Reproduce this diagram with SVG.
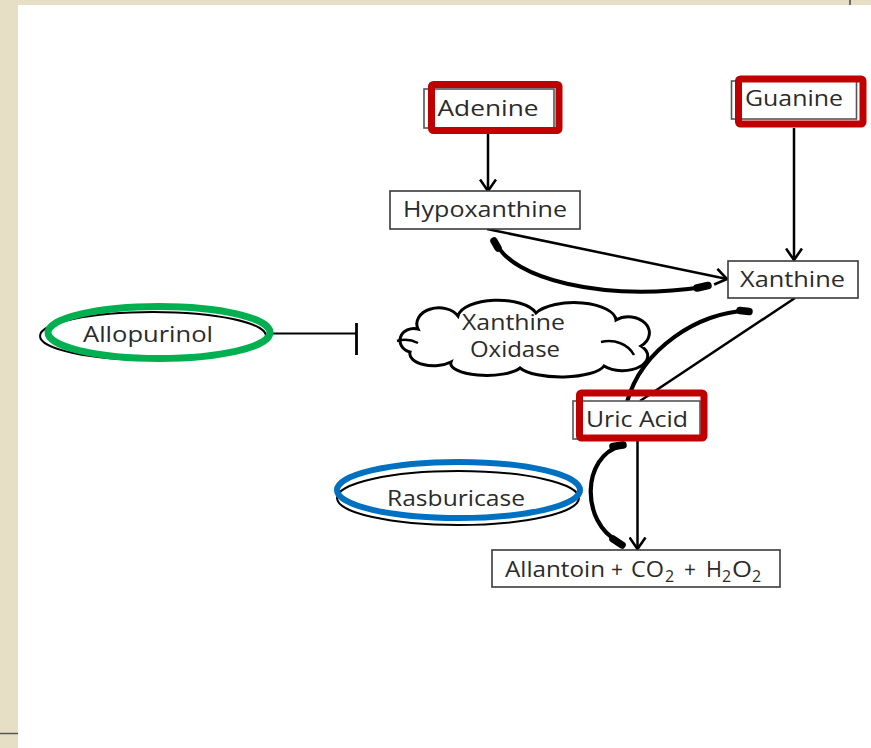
<svg xmlns="http://www.w3.org/2000/svg" width="871" height="748" viewBox="0 0 871 748">
  <style>
    .lbl { font-family: "Open Sans", "DejaVu Sans", sans-serif; font-size: 21px; fill: #2b2b2b; }
    .sub { font-family: "Open Sans", "DejaVu Sans", sans-serif; font-size: 16px; fill: #2b2b2b; }
    .box { fill: #ffffff; stroke: #3a3a3a; stroke-width: 1.6; }
    .under { fill: #ffffff; stroke: #555555; stroke-width: 1.6; }
    .hl { fill: none; stroke: #c00000; stroke-width: 7; }
    .thin { fill: none; stroke: #000000; stroke-width: 2.5; }
    .thick { fill: none; stroke: #000000; stroke-width: 4.2; stroke-linecap: round; }
    .tip { fill: none; stroke: #000000; stroke-width: 7.5; stroke-linecap: round; }
  </style>
  <defs>
    <marker id="vhead" viewBox="0 0 14 18" refX="12.5" refY="9" markerWidth="14" markerHeight="18" markerUnits="userSpaceOnUse" orient="auto">
      <path d="M1,1 L12.5,9 L1,17" fill="none" stroke="#000" stroke-width="2.6"/>
    </marker>
  </defs>

  <!-- page frame -->
  <rect x="0" y="0" width="871" height="748" fill="#ffffff"/>
  <rect x="0" y="0" width="871" height="5" fill="#e6dfc6"/>
  <rect x="0" y="0" width="18" height="748" fill="#e6dfc6"/>
  <line x1="850" y1="0" x2="850" y2="5" stroke="#444" stroke-width="1.5"/>
  <line x1="0" y1="733.5" x2="18" y2="733.5" stroke="#555" stroke-width="1.5"/>

  <!-- connectors -->
  <g id="connectors">
    <line class="thin" x1="488" y1="134" x2="488" y2="191" stroke-width="3" marker-end="url(#vhead)"/>
    <line class="thin" x1="794" y1="128" x2="794" y2="260" stroke-width="3" marker-end="url(#vhead)"/>
    <line class="thin" x1="487" y1="229" x2="727" y2="279" marker-end="url(#vhead)"/>
    <line class="thin" x1="795" y1="298" x2="640" y2="401" stroke-width="2.2"/>
    <line class="thin" x1="637.5" y1="441" x2="637.5" y2="549" stroke-width="2.2" marker-end="url(#vhead)"/>
    <!-- curved reaction arrows -->
    <path class="thick" d="M496,243 C512,278 600,302 704,287"/>
    <path class="tip" d="M494,241 L498,248"/>
    <path class="tip" d="M697,288 L708,285.5"/>
    <path class="thick" d="M746,311 C700,312 642,348 627,402"/>
    <path class="tip" d="M740,310.5 L749,311.5"/>
    <path class="thick" d="M621,446 C582,456 580,522 619,542"/>
    <path class="tip" d="M613,446.5 L623,445"/>
    <path class="tip" d="M613,539 L622,545"/>
    <!-- inhibition -->
    <line x1="272" y1="333.5" x2="356" y2="333.5" stroke="#000" stroke-width="2"/>
    <line x1="356.5" y1="323" x2="356.5" y2="355" stroke="#000" stroke-width="2.8"/>
  </g>

  <g id="adenine">
    <rect class="under" x="424" y="89" width="130" height="39"/>
    <text class="lbl" x="437.5" y="116" textLength="101" lengthAdjust="spacingAndGlyphs">Adenine</text>
    <rect class="hl" x="431.5" y="84.5" width="127.5" height="46" rx="2"/>
  </g>

  <g id="guanine">
    <rect class="under" x="731.5" y="81" width="125" height="38"/>
    <text class="lbl" x="745" y="106" textLength="98" lengthAdjust="spacingAndGlyphs">Guanine</text>
    <rect class="hl" x="738.5" y="79" width="124.5" height="45" rx="2"/>
  </g>

  <g id="hypoxanthine">
    <rect class="box" x="390" y="191" width="190" height="38"/>
    <text class="lbl" x="403" y="217" textLength="164" lengthAdjust="spacingAndGlyphs">Hypoxanthine</text>
  </g>

  <g id="xanthine">
    <rect class="box" x="728" y="261" width="130" height="37"/>
    <text class="lbl" x="740" y="287" textLength="105" lengthAdjust="spacingAndGlyphs">Xanthine</text>
  </g>

  <g id="xanthine-oxidase">
    <path d="M418,329 A22,16 0 0 1 458,316 A40,18 0 0 1 536,313 A42,18 0 0 1 616,320 A18,14 0 0 1 641,346 A24,14 0 0 1 604,366 A44,14 0 0 1 520,368 A36,12 0 0 1 451,362 A24,12 0 0 1 410,352 A14,12 0 0 1 418,329 Z" fill="#ffffff" stroke="#000" stroke-width="3"/>
    <path d="M397,341 C404,339 412,340 418,343" fill="none" stroke="#000" stroke-width="2.5"/>
    <path d="M601,342 C615,339 628,344 634,355" fill="none" stroke="#000" stroke-width="2.5"/>
    <text class="lbl" x="462" y="330" textLength="103" lengthAdjust="spacingAndGlyphs">Xanthine</text>
    <text class="lbl" x="470" y="357" textLength="90" lengthAdjust="spacingAndGlyphs">Oxidase</text>
  </g>

  <g id="uric-acid">
    <rect class="under" x="573" y="401" width="127" height="38"/>
    <text class="lbl" x="586" y="427" textLength="102" lengthAdjust="spacingAndGlyphs">Uric Acid</text>
    <rect class="hl" x="579.5" y="393" width="124.5" height="45" rx="2"/>
  </g>

  <g id="allantoin">
    <rect class="box" x="492" y="550" width="288" height="37"/>
    <text class="lbl" x="505" y="577" textLength="100" lengthAdjust="spacingAndGlyphs">Allantoin</text>
    <text class="lbl" x="611" y="577">+</text>
    <text class="lbl" x="631" y="577" textLength="33" lengthAdjust="spacingAndGlyphs">CO</text>
    <text class="sub" x="665" y="582">2</text>
    <text class="lbl" x="684" y="577">+</text>
    <text class="lbl" x="706" y="577" textLength="16" lengthAdjust="spacingAndGlyphs">H</text>
    <text class="sub" x="722" y="582">2</text>
    <text class="lbl" x="732" y="577" textLength="20" lengthAdjust="spacingAndGlyphs">O</text>
    <text class="sub" x="752" y="582">2</text>
  </g>

  <g id="allopurinol">
    <ellipse cx="153" cy="336" rx="113" ry="24" fill="#ffffff" stroke="#000" stroke-width="2"/>
    <text class="lbl" x="83" y="342" textLength="130" lengthAdjust="spacingAndGlyphs">Allopurinol</text>
    <ellipse cx="159" cy="332.5" rx="111" ry="26" fill="none" stroke="#00b050" stroke-width="7"/>
  </g>

  <g id="rasburicase">
    <ellipse cx="458" cy="498" rx="121" ry="27" fill="#ffffff" stroke="#000" stroke-width="2"/>
    <text class="lbl" x="387" y="506" textLength="138" lengthAdjust="spacingAndGlyphs">Rasburicase</text>
    <ellipse cx="458.5" cy="490" rx="121.5" ry="28" fill="none" stroke="#0070c0" stroke-width="6"/>
  </g>
</svg>
